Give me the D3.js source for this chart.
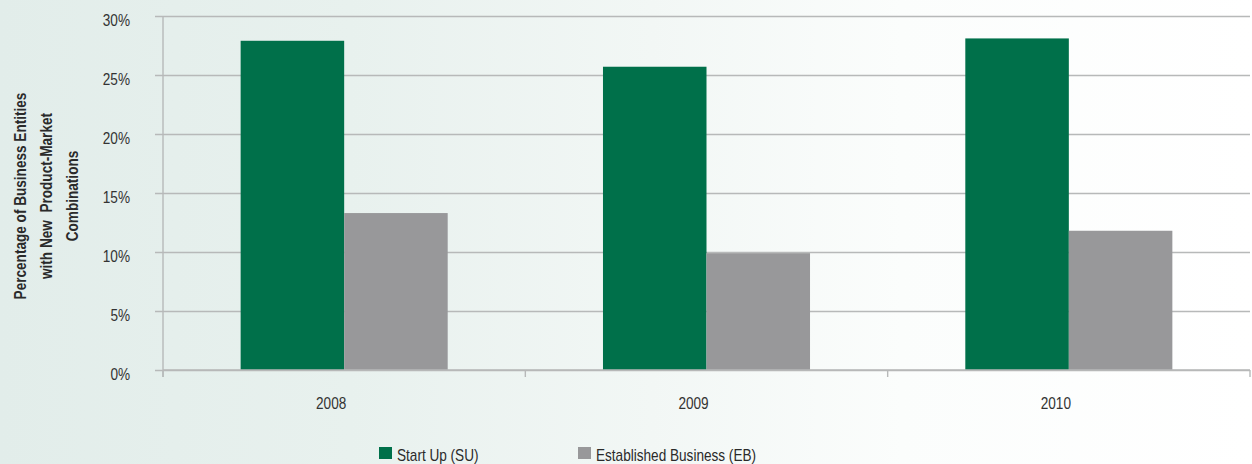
<!DOCTYPE html>
<html>
<head>
<meta charset="utf-8">
<script src="https://cdn.jsdelivr.net/npm/d3@7"></script>
<style>
  html, body { margin: 0; padding: 0; }
  body { width: 1252px; height: 464px; overflow: hidden; }
  svg { display: block; }
  text { font-family: "Liberation Sans", Arial, sans-serif; }
</style>
</head>
<body>
<svg id="chart" width="1252" height="464"></svg>
<script>
// Share of business entities with new product-market combinations
const years = ["2008", "2009", "2010"];
const seriesNames = ["Start Up (SU)", "Established Business (EB)"];
const startUp = [27.9, 25.7, 28.1];
const established = [13.3, 9.9, 11.8];
const yTicks = [0, 5, 10, 15, 20, 25, 30];
const colors = ["#00704a", "#98989a"];

const W = 1252, H = 464;
const margin = { left: 163, right: 2, top: 16, bottom: 94 };
const SQ = 0.85;          // horizontal squeeze for a condensed look
const FS = 16;            // font size
const svg = d3.select("#chart");

// soft mint backdrop
const defs = svg.append("defs");
const bg = defs.append("linearGradient").attr("id", "bg").attr("x1", 0).attr("x2", 1).attr("y1", 0).attr("y2", 0);
[["0%", "#e2edea"], ["28%", "#e8f1ee"], ["52%", "#f2f7f5"], ["72%", "#fbfdfc"], ["100%", "#ffffff"]]
  .forEach(([o, c]) => bg.append("stop").attr("offset", o).attr("stop-color", c));
svg.append("rect").attr("width", W).attr("height", H).attr("fill", "url(#bg)");

const x0 = d3.scaleBand().domain(years).range([margin.left, W - margin.right]).paddingInner(0).paddingOuter(0);
const x1 = d3.scaleBand().domain(seriesNames).range([0, x0.bandwidth()]).paddingInner(0).paddingOuter(0.75);
const y = d3.scaleLinear().domain([0, 30]).range([H - margin.bottom, margin.top]);

const gridColor = "#b7b9b9";

// horizontal gridlines with short outward ticks
const yAxis = d3.axisLeft(y).tickValues(yTicks).tickSize(0).tickFormat(d => d + "%");
const gy = svg.append("g").attr("transform", `translate(${margin.left - 8},0)`).call(yAxis);
gy.select(".domain").remove();
gy.selectAll(".tick line")
  .attr("stroke", gridColor).attr("stroke-width", 1.6)
  .attr("x1", 0).attr("x2", W - margin.right - margin.left + 8);
gy.selectAll(".tick text")
  .attr("fill", "#333").attr("font-size", FS)
  .attr("text-anchor", "end")
  .attr("dy", "0.58em")
  .attr("x", -25 / SQ)
  .attr("transform", `scale(${SQ},1)`);

// vertical axis line
svg.append("line")
  .attr("x1", margin.left).attr("x2", margin.left)
  .attr("y1", y(30)).attr("y2", y(0) + 7)
  .attr("stroke", gridColor).attr("stroke-width", 1.4);

// bars
const data = years.map((yr, i) => ({ year: yr, values: [startUp[i], established[i]] }));
const groups = svg.append("g").selectAll("g").data(data).join("g")
  .attr("transform", d => `translate(${x0(d.year)},0)`);
groups.selectAll("rect").data(d => d.values.map((v, j) => ({ v, name: seriesNames[j], j })))
  .join("rect")
  .attr("x", d => x1(d.name))
  .attr("width", x1.bandwidth())
  .attr("y", d => y(d.v))
  .attr("height", d => y(0) - y(d.v))
  .attr("fill", d => colors[d.j]);

// category axis: baseline, boundary ticks and year labels
const boundaries = years.map(yr => x0(yr)).concat([x0(years[years.length - 1]) + x0.bandwidth()]);
svg.append("g").selectAll("line").data(boundaries).join("line")
  .attr("x1", d => d).attr("x2", d => d)
  .attr("y1", y(0)).attr("y2", y(0) + 7)
  .attr("stroke", gridColor).attr("stroke-width", 1.4);
svg.append("line")
  .attr("x1", margin.left).attr("x2", W - margin.right)
  .attr("y1", y(0)).attr("y2", y(0))
  .attr("stroke", gridColor).attr("stroke-width", 1.6);
svg.append("g").selectAll("text").data(years).join("text")
  .attr("transform", d => `translate(${x0(d) + x0.bandwidth() / 2 - 13},409) scale(${SQ},1)`)
  .attr("text-anchor", "middle")
  .attr("font-size", FS)
  .attr("fill", "#333")
  .text(d => d);

// rotated y-axis title
const titleLines = ["Percentage of Business Entities", "with New  Product-Market", "Combinations"];
const title = svg.append("text")
  .attr("transform", `translate(26,196) rotate(-90) scale(${SQ},1)`)
  .attr("text-anchor", "middle")
  .attr("font-size", FS)
  .attr("font-weight", "bold")
  .attr("fill", "#2a2a2a")
  .style("white-space", "pre");
titleLines.forEach((t, i) => {
  title.append("tspan").attr("x", 0).attr("dy", i === 0 ? 0 : 26).text(t);
});

// legend
const legendX = [379, 578];
const legend = svg.append("g").selectAll("g").data(seriesNames).join("g")
  .attr("transform", (d, i) => `translate(${legendX[i]},447)`);
legend.append("rect").attr("width", 13).attr("height", 12).attr("fill", (d, i) => colors[i]);
legend.append("text")
  .attr("transform", `translate(18,13.5) scale(${SQ},1)`)
  .attr("font-size", FS).attr("fill", "#2a2a2a").text(d => d);
</script>
</body>
</html>
